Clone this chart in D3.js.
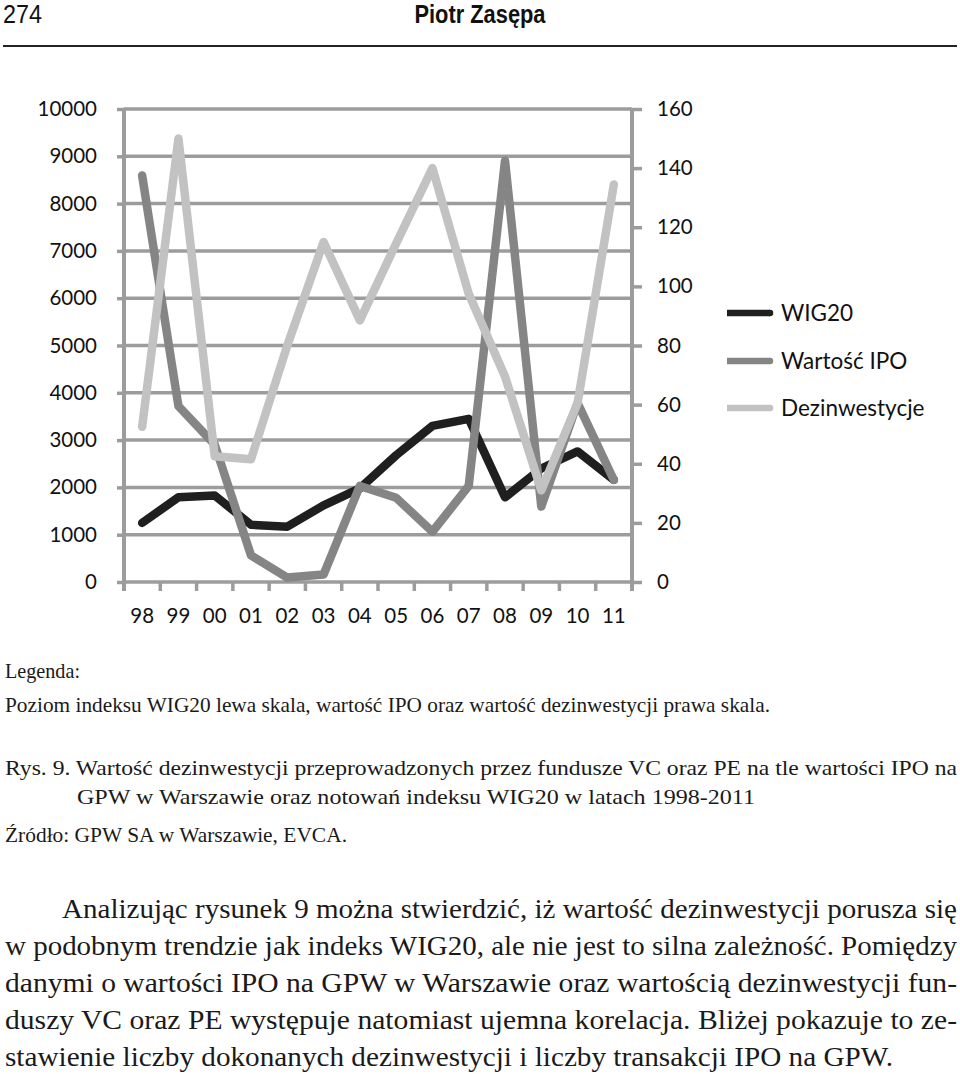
<!DOCTYPE html>
<html><head><meta charset="utf-8">
<script src="https://cdn.jsdelivr.net/npm/d3@7/dist/d3.min.js"></script>
<style>body{margin:0;background:#fff;}svg{display:block;}</style>
</head><body>
<svg id="c" width="960" height="1074"></svg>
<script>
const years = ["98","99","00","01","02","03","04","05","06","07","08","09","10","11"];
const wig20 = [1250,1790,1830,1210,1170,1620,1980,2680,3300,3450,1790,2400,2760,2160];
const ipo = [137.5,59.5,46.5,9,1.5,2.5,32.5,28.5,17,32.5,142.5,25.5,60.5,34.5];
const dezinwestycje = [52.5,150,42.5,41.5,80,115,88.5,114.5,140,97.5,69.5,31,60.5,134.5];
const leftTicks = [0,1000,2000,3000,4000,5000,6000,7000,8000,9000,10000];
const rightTicks = [0,20,40,60,80,100,120,140,160];
const seriesNames = ["WIG20","Wartość IPO","Dezinwestycje"];
const seriesColors = ["#1f1f1f","#858585","#c2c2c2"];

const svg = d3.select("#c");
const chartFont = "Lato, 'Open Sans', sans-serif";
const serif = "'Times New Roman', 'Liberation Serif', Times, serif";

// header
svg.append("text").attr("x",3).attr("y",23).attr("font-family","'Liberation Sans Narrow','Liberation Sans',Arial,sans-serif")
  .attr("font-size",25).attr("textLength",39).attr("lengthAdjust","spacingAndGlyphs").attr("fill","#111").text("274");
svg.append("text").attr("x",480).attr("y",23).attr("text-anchor","middle").attr("font-family","'Liberation Sans Narrow','Liberation Sans',Arial,sans-serif")
  .attr("font-weight","bold").attr("font-size",25).attr("textLength",131).attr("lengthAdjust","spacingAndGlyphs").attr("fill","#111").text("Piotr Zasępa");
svg.append("line").attr("x1",3).attr("x2",957).attr("y1",46).attr("y2",46).attr("stroke","#222").attr("stroke-width",2);

// chart
const L=124, R=632, T=109, B=582;
const x = d3.scaleBand().domain(years).range([L,R]);
const yL = d3.scaleLinear().domain([0,10000]).range([B,T]);
const yR = d3.scaleLinear().domain([0,160]).range([B,T]);
const grid="#9c9c9c";

const g = svg.append("g");
const axL = g.append("g").attr("transform",`translate(${L},0)`)
  .call(d3.axisLeft(yL).tickValues(leftTicks).tickSize(7).tickPadding(20).tickFormat(d3.format("d")));
axL.select(".domain").remove();
axL.selectAll(".tick line").attr("stroke",grid).attr("stroke-width",3.5);
axL.selectAll(".tick text").attr("font-family",chartFont).attr("font-size",20.5).attr("fill","#111");
g.append("g").selectAll("line").data(leftTicks).join("line")
  .attr("x1",L).attr("x2",R).attr("y1",d=>yL(d)).attr("y2",d=>yL(d))
  .attr("stroke",grid).attr("stroke-width",3.5);

const axR = g.append("g").attr("transform",`translate(${R},0)`)
  .call(d3.axisRight(yR).tickValues(rightTicks).tickSize(10).tickPadding(15));
axR.select(".domain").remove();
axR.selectAll(".tick line").attr("stroke",grid).attr("stroke-width",3.5);
axR.selectAll(".tick text").attr("font-family",chartFont).attr("font-size",20.5).attr("fill","#111");

const axX = g.append("g").attr("transform",`translate(0,${B})`)
  .call(d3.axisBottom(x).tickSize(0).tickPadding(26));
axX.select(".domain").remove();
axX.selectAll(".tick text").attr("font-family",chartFont).attr("font-size",20.5).attr("fill","#111");
const bounds = years.map(d=>x(d)).concat([R]);
g.append("g").selectAll("line").data(bounds).join("line")
  .attr("x1",d=>d).attr("x2",d=>d).attr("y1",B).attr("y2",B+9)
  .attr("stroke",grid).attr("stroke-width",3.5);
g.append("line").attr("x1",L).attr("x2",L).attr("y1",T).attr("y2",B+9).attr("stroke",grid).attr("stroke-width",4);
g.append("line").attr("x1",R).attr("x2",R).attr("y1",T).attr("y2",B+9).attr("stroke",grid).attr("stroke-width",4);

const cx = d => x(d)+x.bandwidth()/2;
const lineL = d3.line().x((d,i)=>cx(years[i])).y(d=>yL(d));
const lineR = d3.line().x((d,i)=>cx(years[i])).y(d=>yR(d));
const drawOrder = [[wig20,lineL,0],[ipo,lineR,1],[dezinwestycje,lineR,2]];
drawOrder.forEach(([data,gen,k])=>{
  g.append("path").attr("d",gen(data)).attr("fill","none").attr("stroke",seriesColors[k])
   .attr("stroke-width",8.5).attr("stroke-linecap","round").attr("stroke-linejoin","round");
});

// legend
const legY = [313,361,408];
seriesNames.forEach((n,i)=>{
  g.append("line").attr("x1",727).attr("x2",770).attr("y1",legY[i]).attr("y2",legY[i])
   .attr("stroke",seriesColors[i]).attr("stroke-width",6.5).attr("stroke-linecap","butt");
  g.append("circle").attr("cx",770).attr("cy",legY[i]).attr("r",3.25).attr("fill",seriesColors[i]);
  g.append("text").attr("x",781).attr("y",legY[i]).attr("dy","0.36em").attr("font-family",chartFont)
   .attr("font-size",22.5).attr("fill","#111").text(n);
});

// caption texts
const cap = [
  {t:"Legenda:", x:5, y:678, w:75},
  {t:"Poziom indeksu WIG20 lewa skala, wartość IPO oraz wartość dezinwestycji prawa skala.", x:5, y:712, w:765},
  {t:"Rys. 9. Wartość dezinwestycji przeprowadzonych przez fundusze VC oraz PE na tle wartości IPO na", x:5, y:775, w:952},
  {t:"GPW w Warszawie oraz notowań indeksu WIG20 w latach 1998-2011", x:77, y:804, w:678},
  {t:"Źródło: GPW SA w Warszawie, EVCA.", x:5, y:842, w:342}
];
cap.forEach(c=>{
  svg.append("text").attr("x",c.x).attr("y",c.y).attr("font-family",serif).attr("font-size",21)
   .attr("fill","#1a1a1a").attr("textLength",c.w).attr("lengthAdjust","spacingAndGlyphs").text(c.t);
});
const para = [
  {t:"Analizując rysunek 9 można stwierdzić, iż wartość dezinwestycji porusza się", x:62, y:918, w:895},
  {t:"w podobnym trendzie jak indeks WIG20, ale nie jest to silna zależność. Pomiędzy", x:5, y:955, w:952},
  {t:"danymi o wartości IPO na GPW w Warszawie oraz wartością dezinwestycji fun-", x:5, y:992, w:952},
  {t:"duszy VC oraz PE występuje natomiast ujemna korelacja. Bliżej pokazuje to ze-", x:5, y:1029, w:952},
  {t:"stawienie liczby dokonanych dezinwestycji i liczby transakcji IPO na GPW.", x:5, y:1066, w:888}
];
para.forEach(c=>{
  svg.append("text").attr("x",c.x).attr("y",c.y).attr("font-family",serif).attr("font-size",27)
   .attr("fill","#1a1a1a").attr("textLength",c.w).attr("lengthAdjust","spacingAndGlyphs").text(c.t);
});
</script>
</body></html>
